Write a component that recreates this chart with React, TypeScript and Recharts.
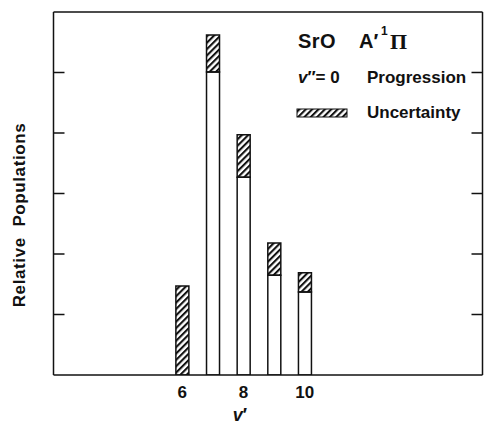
import { ComposedChart, Bar, XAxis, YAxis, Customized } from 'recharts'

const levels = [6, 7, 8, 9, 10]
const lowerBound = [0, 5.01, 3.27, 1.65, 1.37]
const upperBound = [1.47, 5.62, 3.97, 2.18, 1.69]
const yTicks = [1, 2, 3, 4, 5]
const xTicks = [6, 8, 10]

const data = levels.map((v, i) => ({
  v,
  base: lowerBound[i],
  unc: upperBound[i] - lowerBound[i],
}))

const font = '"Liberation Sans", Arial, sans-serif'
const ink = '#111'

const LeftTick = (props: any) => (
  <line x1={props.x} x2={props.x + 11} y1={props.y} y2={props.y} stroke={ink} strokeWidth={1.5} />
)
const RightTick = (props: any) => (
  <line x1={props.x} x2={props.x - 11} y1={props.y} y2={props.y} stroke={ink} strokeWidth={1.5} />
)

function Notes() {
  const txt = { fontFamily: font, fill: ink, fontWeight: 700 }
  return (
    <g>
      <text x={298} y={48} fontSize={20} letterSpacing={0.5} {...txt}>SrO</text>
      <text x={359} y={48} fontSize={20} {...txt}>A′</text>
      <text x={381} y={35} fontSize={12} {...txt}>1</text>
      <text x={390} y={49} fontSize={22} {...txt} fontFamily='"Liberation Serif", serif'>Π</text>
      <text x={298} y={83} fontSize={17} {...txt}>
        <tspan fontStyle="italic">v</tspan>″= 0
      </text>
      <text x={367} y={83} fontSize={17} {...txt}>Progression</text>
      <rect x={297} y={109} width={50} height={8} fill="url(#hatch)" stroke={ink} strokeWidth={1} />
      <text x={367} y={118} fontSize={17} {...txt}>Uncertainty</text>
      <text
        x={25}
        y={215}
        fontSize={17}
        letterSpacing={0.6}
        textAnchor="middle"
        transform="rotate(-90 25 215)"
        {...txt}
        xmlSpace="preserve"
      >
        Relative  Populations
      </text>
      <text x={240} y={421} fontSize={18} textAnchor="middle" {...txt}>
        <tspan fontStyle="italic">v</tspan>′
      </text>
    </g>
  )
}

export default function App() {
  return (
    <div style={{ position: 'absolute', left: 0, top: 0 }}>
      <svg width={0} height={0} style={{ position: 'absolute' }}>
        <defs>
          <pattern id="hatch" patternUnits="userSpaceOnUse" width={4.5} height={4.5} patternTransform="rotate(45)">
            <rect x={0} y={0} width={2.1} height={4.5} fill={ink} />
          </pattern>
        </defs>
      </svg>
      <ComposedChart
        width={484}
        height={425}
        data={data}
        margin={{ top: 11, right: 0.5, left: 52.5, bottom: 20 }}
        barSize={13}
      >
        <XAxis
          dataKey="v"
          type="number"
          domain={[1.8, 15.8]}
          ticks={xTicks}
          tickLine={false}
          tickSize={0}
          tickMargin={11}
          height={30}
          axisLine={{ stroke: ink, strokeWidth: 1.5 }}
          tick={{ fill: ink, fontSize: 17, fontFamily: font, fontWeight: 700 }}
          allowDataOverflow
        />
        <XAxis
          xAxisId="top"
          orientation="top"
          type="number"
          domain={[1.8, 15.8]}
          height={1}
          tick={false}
          tickLine={false}
          axisLine={{ stroke: ink, strokeWidth: 1.5 }}
          allowDataOverflow
        />
        <YAxis
          type="number"
          domain={[0, 6]}
          ticks={yTicks}
          width={1}
          tickSize={0}
          tickMargin={0}
          tickLine={false}
          tick={LeftTick}
          axisLine={{ stroke: ink, strokeWidth: 1.5 }}
          allowDataOverflow
        />
        <YAxis
          yAxisId="r"
          orientation="right"
          type="number"
          domain={[0, 6]}
          ticks={yTicks}
          width={1}
          tickSize={0}
          tickMargin={0}
          tickLine={false}
          tick={RightTick}
          axisLine={{ stroke: ink, strokeWidth: 1.5 }}
          allowDataOverflow
        />
        <Bar dataKey="base" stackId="a" fill="#fff" stroke={ink} strokeWidth={1.5} isAnimationActive={false} />
        <Bar dataKey="unc" stackId="a" fill="url(#hatch)" stroke={ink} strokeWidth={1.5} isAnimationActive={false} />
        <Customized component={Notes} />
      </ComposedChart>
    </div>
  )
}
